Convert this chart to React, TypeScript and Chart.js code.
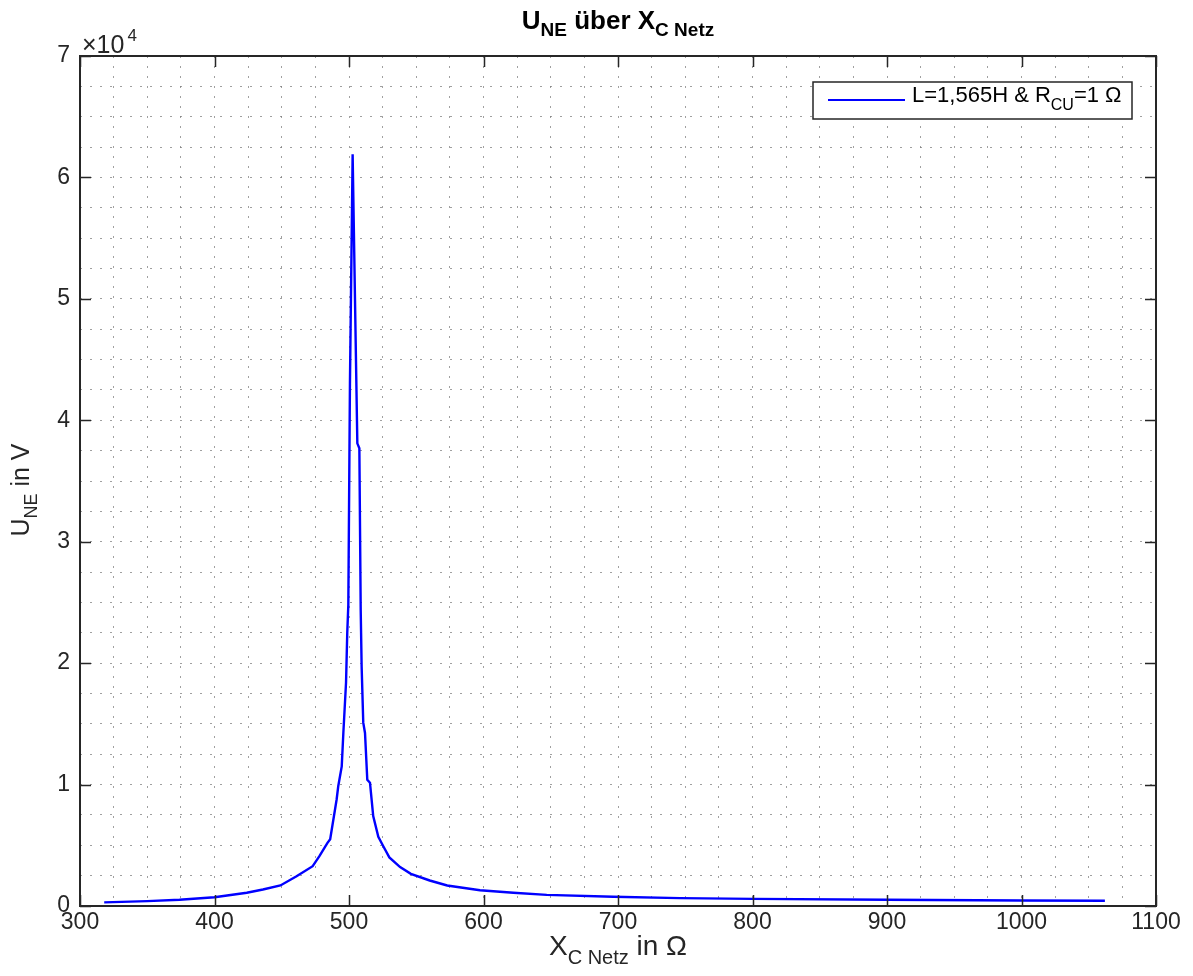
import { useEffect, useRef } from "react";
import { Chart, registerables } from "chart.js";

Chart.register(...registerables);

// X_C Netz in Ω
const xValues = [
  318, 350, 374, 400, 424, 436, 449, 461, 473, 478, 484, 486, 489.6, 490.8, 492,
  494.6, 495.8, 497.8, 498.7, 499.5, 500.7, 502.7, 506.2, 507.7, 508.7, 509.4,
  510.6, 511.9, 513.6, 515.6, 518, 521.8, 525.5, 530, 538, 546,
  560, 573, 597.4, 622.2, 647, 696.5, 746, 800.6, 899.8, 1000, 1062,
];
// U_NE in V
const yValues = [
  300, 400, 510, 720, 1090, 1360, 1690, 2450, 3280, 4100, 5200, 5500, 7950, 8770,
  9860, 11500, 14250, 18400, 22500, 24800, 43000, 61900, 38100, 37700, 24400,
  19700, 15100, 14250, 10400, 10150, 7400, 5700, 4920, 4000, 3200, 2650,
  2100, 1690, 1300, 1090, 920, 757, 650, 590, 510, 450, 430,
];

const xMin = 300;
const xMax = 1100;
const xMajorStep = 100;
const xMinorStep = 25;
const yMin = 0;
const yMax = 70000;
const yMajorStep = 10000;
const yMinorStep = 2500;
const yExponent = 4;
const seriesLabel = "L=1,565H & R_CU=1Ω";

const FONT = '"Liberation Sans", Arial, Helvetica, sans-serif';
const AXIS_COLOR = "#262626";
const LINE_COLOR = "#0000ff";

type Seg = { t: string; size: number; dy: number; bold?: boolean };

function segWidth(ctx: CanvasRenderingContext2D, segs: Seg[]) {
  let w = 0;
  for (const s of segs) {
    ctx.font = `${s.bold ? "bold " : ""}${s.size}px ${FONT}`;
    w += ctx.measureText(s.t).width;
  }
  return w;
}

function drawSegs(ctx: CanvasRenderingContext2D, segs: Seg[], x: number, y: number) {
  let cx = x;
  ctx.textBaseline = "alphabetic";
  ctx.textAlign = "left";
  for (const s of segs) {
    ctx.font = `${s.bold ? "bold " : ""}${s.size}px ${FONT}`;
    ctx.fillText(s.t, cx, y + s.dy);
    cx += ctx.measureText(s.t).width;
  }
}

const decorPlugin = {
  id: "decor",
  afterDatasetsDraw(chart: any) {
    const { ctx, chartArea: a, scales } = chart;
    const xs = scales.x;
    const ys = scales.y;
    ctx.save();
    ctx.fillStyle = AXIS_COLOR;
    ctx.strokeStyle = AXIS_COLOR;

    // inward major ticks
    ctx.lineWidth = 1.5;
    const tl = 11;
    ctx.beginPath();
    for (let v = xMin; v <= xMax; v += xMajorStep) {
      const px = Math.round(xs.getPixelForValue(v)) + 0.5;
      ctx.moveTo(px, a.bottom);
      ctx.lineTo(px, a.bottom - tl);
      ctx.moveTo(px, a.top);
      ctx.lineTo(px, a.top + tl);
    }
    for (let v = yMin; v <= yMax; v += yMajorStep) {
      const py = Math.round(ys.getPixelForValue(v)) + 0.5;
      ctx.moveTo(a.left, py);
      ctx.lineTo(a.left + tl, py);
      ctx.moveTo(a.right, py);
      ctx.lineTo(a.right - tl, py);
    }
    ctx.stroke();

    // box
    ctx.lineWidth = 2;
    ctx.strokeRect(a.left, a.top, a.right - a.left, a.bottom - a.top);

    // exponent
    drawSegs(ctx, [{ t: "×10", size: 25, dy: 0 }], a.left + 2, a.top - 3);
    ctx.font = `25px ${FONT}`;
    const ew = ctx.measureText("×10").width;
    drawSegs(ctx, [{ t: String(yExponent), size: 17, dy: 0 }], a.left + 3 + ew + 2, a.top - 15);

    // title
    ctx.fillStyle = "#000000";
    const title: Seg[] = [
      { t: "U", size: 26, dy: 0, bold: true },
      { t: "NE", size: 19, dy: 7, bold: true },
      { t: " über X", size: 26, dy: 0, bold: true },
      { t: "C Netz", size: 19, dy: 7, bold: true },
    ];
    const cxMid = (a.left + a.right) / 2;
    drawSegs(ctx, title, cxMid - segWidth(ctx, title) / 2, 29);

    // x label
    ctx.fillStyle = AXIS_COLOR;
    const xl: Seg[] = [
      { t: "X", size: 28, dy: 0 },
      { t: "C Netz", size: 20, dy: 9 },
      { t: " in Ω", size: 28, dy: 0 },
    ];
    drawSegs(ctx, xl, cxMid - segWidth(ctx, xl) / 2, 955);

    // y label
    const yl: Seg[] = [
      { t: "U", size: 25, dy: 0 },
      { t: "NE", size: 18, dy: 8 },
      { t: " in V", size: 25, dy: 0 },
    ];
    ctx.save();
    ctx.translate(29, 490);
    ctx.rotate(-Math.PI / 2);
    drawSegs(ctx, yl, -segWidth(ctx, yl) / 2, 0);
    ctx.restore();

    // legend
    const lx = 813, ly = 82, lw = 319, lh = 37;
    ctx.fillStyle = "#ffffff";
    ctx.fillRect(lx, ly, lw, lh);
    ctx.lineWidth = 1.5;
    ctx.strokeStyle = AXIS_COLOR;
    ctx.strokeRect(lx, ly, lw, lh);
    ctx.strokeStyle = LINE_COLOR;
    ctx.lineWidth = 2;
    ctx.beginPath();
    ctx.moveTo(828, 100);
    ctx.lineTo(905, 100);
    ctx.stroke();
    ctx.fillStyle = "#000000";
    const [main, rest] = seriesLabel.split("_");
    const sub = rest.slice(0, 2);
    const after = rest.slice(2);
    drawSegs(
      ctx,
      [
        { t: main, size: 22, dy: 0 },
        { t: sub, size: 16, dy: 8 },
        { t: after.replace("Ω", " Ω"), size: 22, dy: 0 },
      ],
      912,
      102
    );
    ctx.restore();
  },
};

export default function App() {
  const ref = useRef<HTMLCanvasElement | null>(null);
  useEffect(() => {
    if (!ref.current) return;
    const gridColor = "rgba(120,120,120,0.7)";
    const chart = new Chart(ref.current, {
      type: "line",
      data: {
        datasets: [
          {
            label: seriesLabel,
            data: xValues.map((x, i) => ({ x, y: yValues[i] })),
            borderColor: LINE_COLOR,
            borderWidth: 2.4,
            pointRadius: 0,
            tension: 0,
            fill: false,
          },
        ],
      },
      options: {
        animation: false,
        responsive: false,
        devicePixelRatio: 1,
        layout: { padding: { left: 0, right: 37, top: 56, bottom: 0 } },
        plugins: {
          legend: { display: false },
          title: { display: false },
          tooltip: { enabled: false },
        },
        scales: {
          x: {
            type: "linear",
            min: xMin,
            max: xMax,
            afterFit: (s: any) => {
              s.height = 70;
            },
            ticks: {
              stepSize: xMinorStep,
              autoSkip: false,
              maxRotation: 0,
              maxTicksLimit: 1000,
              padding: 3,
              color: AXIS_COLOR,
              font: { family: FONT, size: 23 },
              callback: (v: any) => (Number(v) % xMajorStep === 0 ? String(v) : ""),
            },
            grid: { color: gridColor, lineWidth: 1, drawTicks: false },
            border: { display: false, dash: [2, 8] },
          },
          y: {
            type: "linear",
            min: yMin,
            max: yMax,
            afterFit: (s: any) => {
              s.width = 80;
            },
            ticks: {
              stepSize: yMinorStep,
              autoSkip: false,
              maxTicksLimit: 1000,
              padding: 10,
              color: AXIS_COLOR,
              font: { family: FONT, size: 23 },
              callback: (v: any) =>
                Number(v) % yMajorStep === 0 ? String(Number(v) / Math.pow(10, yExponent)) : "",
            },
            grid: { color: gridColor, lineWidth: 1, drawTicks: false },
            border: { display: false, dash: [2, 8] },
          },
        },
      },
      plugins: [decorPlugin],
    });
    return () => chart.destroy();
  }, []);
  return (
    <div style={{ position: "fixed", left: 0, top: 0, width: 1193, height: 976, background: "#fff" }}>
      <canvas ref={ref} width={1193} height={976} />
    </div>
  );
}
